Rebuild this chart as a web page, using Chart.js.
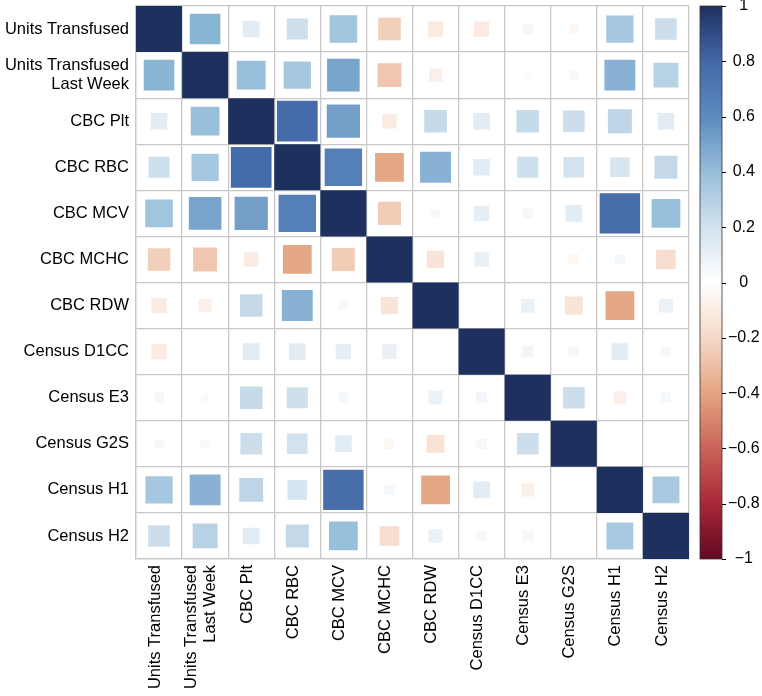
<!DOCTYPE html>
<html><head><meta charset="utf-8">
<script src="https://cdn.jsdelivr.net/npm/chart.js@4/dist/chart.umd.min.js"></script>
<style>html,body{margin:0;padding:0;background:#fff}#wrap{width:762px;height:696px}</style>
</head><body><div id="wrap"><canvas id="c" width="762" height="696"></canvas></div>
<script>
// ---- data ----
const variables = ['Units Transfused','Units Transfused Last Week','CBC Plt','CBC RBC','CBC MCV','CBC MCHC','CBC RDW','Census D1CC','Census E3','Census G2S','Census H1','Census H2'];
const rowUnitsTransfused   = [ 1.00, 0.44, 0.13, 0.21, 0.36,-0.24,-0.11,-0.11, 0.05,-0.04, 0.35, 0.22];
const rowUnitsLastWeek     = [ 0.44, 1.00, 0.39, 0.35, 0.50,-0.27,-0.08, 0.01, 0.03, 0.04, 0.45, 0.29];
const rowCBCPlt            = [ 0.13, 0.39, 1.00, 0.78, 0.52,-0.10, 0.24, 0.13, 0.24, 0.22, 0.27, 0.13];
const rowCBCRBC            = [ 0.21, 0.35, 0.78, 1.00, 0.66,-0.39, 0.45, 0.13, 0.21, 0.20, 0.18, 0.25];
const rowCBCMCV            = [ 0.36, 0.50, 0.52, 0.66, 1.00,-0.25, 0.04, 0.11, 0.05, 0.13, 0.77, 0.39];
const rowCBCMCHC           = [-0.24,-0.27,-0.10,-0.39,-0.25, 1.00,-0.14, 0.10, 0.00,-0.05, 0.05,-0.18];
const rowCBCRDW            = [-0.11,-0.08, 0.24, 0.45, 0.04,-0.14, 1.00,-0.01, 0.09,-0.15,-0.39, 0.09];
const rowCensusD1CC        = [-0.11, 0.01, 0.13, 0.13, 0.11, 0.10,-0.01, 1.00, 0.06, 0.05, 0.13, 0.05];
const rowCensusE3          = [ 0.05, 0.03, 0.24, 0.21, 0.05, 0.00, 0.09, 0.06, 1.00, 0.22,-0.08, 0.05];
const rowCensusG2S         = [-0.04, 0.04, 0.22, 0.20, 0.13,-0.05,-0.15, 0.05, 0.22, 1.00, 0.01, 0.01];
const rowCensusH1          = [ 0.35, 0.45, 0.27, 0.18, 0.77, 0.05,-0.39, 0.13,-0.08, 0.01, 1.00, 0.34];
const rowCensusH2          = [ 0.22, 0.29, 0.13, 0.25, 0.39,-0.18, 0.09, 0.05, 0.05, 0.01, 0.34, 1.00];
const corrRows = [rowUnitsTransfused,rowUnitsLastWeek,rowCBCPlt,rowCBCRBC,rowCBCMCV,rowCBCMCHC,rowCBCRDW,rowCensusD1CC,rowCensusE3,rowCensusG2S,rowCensusH1,rowCensusH2];
const colorbarTicks = [-1,-0.8,-0.6,-0.4,-0.2,0,0.2,0.4,0.6,0.8,1];

// ---- colour map ----
const stopVals = [-1,-0.8,-0.6,-0.4,-0.2,0,0.2,0.4,0.6,0.8,1];
const stopCols = [[98,8,35],[168,40,55],[202,100,88],[228,165,132],[245,217,199],[255,255,255],[210,226,238],[150,190,218],[92,138,190],[68,104,168],[30,48,94]];
function colorFor(v){
  v = Math.max(-1, Math.min(1, v));
  let k = 0;
  while (k < stopVals.length - 2 && v > stopVals[k+1]) k++;
  const t = (v - stopVals[k]) / (stopVals[k+1] - stopVals[k]);
  const a = stopCols[k], b = stopCols[k+1];
  const c = a.map((x,i)=>Math.round(x + (b[i]-x)*t));
  return `rgb(${c[0]},${c[1]},${c[2]})`;
}

const points = [];
corrRows.forEach((row,i)=>row.forEach((v,j)=>points.push({x: variables[j], y: variables[i], v})));

function splitLabel(l){ return l === 'Units Transfused Last Week' ? ['Units Transfused','Last Week'] : l; }

const FONT = {family: "'Liberation Sans', Arial, Helvetica, sans-serif", size: 16.5, lineHeight: 1.15};
const GRID = '#c8c8c8';

// centre rotated multi-line x labels on their column (and nudge like the reference)
const xLabelPlugin = {
  id: 'xLabelCentre',
  beforeDraw(chart){
    const s = chart.scales.x;
    const items = s.getLabelItems();
    items.forEach(it => {
      if (it._shifted) return;
      it._shifted = true;
      const n = Array.isArray(it.label) ? it.label.length : 1;
      const lh = it.font.lineHeight;
      it.textOffset -= (n - 1) * lh / 2 + 4;
    });
  }
};

const colorbarPlugin = {
  id: 'colorbar',
  afterDraw(chart){
    const s = chart.scales.y2, ctx = chart.ctx;
    const x0 = chart.chartArea.right + 11, w = 22;
    const top = s.getPixelForValue(1), bot = s.getPixelForValue(-1);
    const g = ctx.createLinearGradient(0, bot, 0, top);
    for (let k = 0; k <= 200; k++) g.addColorStop(k/200, colorFor(-1 + 2*k/200));
    ctx.save();
    ctx.fillStyle = g;
    ctx.fillRect(x0, top, w, bot - top);
    ctx.strokeStyle = '#333'; ctx.lineWidth = 0.8;
    ctx.strokeRect(x0, top, w, bot - top);
    ctx.lineWidth = 1; ctx.strokeStyle = '#000';
    colorbarTicks.forEach(t => {
      const y = Math.round(s.getPixelForValue(t)) + 0.5;
      ctx.beginPath(); ctx.moveTo(x0 + w, y); ctx.lineTo(x0 + w + 4, y); ctx.stroke();
    });
    ctx.restore();
  }
};

function sideRadius(ctx){
  if (!ctx.raw) return 0;
  const cell = ctx.chart.scales.x.width / variables.length;
  return cell * Math.sqrt(Math.abs(ctx.raw.v)) / Math.SQRT2;
}

new Chart(document.getElementById('c'), {
  type: 'scatter',
  data: {
    datasets: [{
      data: points,
      pointStyle: 'rect',
      borderWidth: 0,
      backgroundColor: ctx => ctx.raw ? colorFor(ctx.raw.v) : '#fff',
      pointRadius: sideRadius,
      pointHoverRadius: sideRadius
    }]
  },
  options: {
    responsive: false,
    animation: false,
    events: [],
    layout: {padding: {top: 6, left: 0, right: 0, bottom: 0}},
    plugins: {legend: {display: false}, tooltip: {enabled: false}},
    scales: {
      x: {
        type: 'category', labels: variables, offset: true, position: 'bottom',
        grid: {offset: true, color: GRID, lineWidth: 1.3, drawTicks: false},
        border: {color: GRID, width: 1.3},
        ticks: {autoSkip: false, minRotation: 90, maxRotation: 90, padding: 6, color: '#000', font: FONT,
          callback: function(val){ return splitLabel(this.getLabelForValue(val)); }},
        afterFit: s => { s.height = 137; s.paddingLeft = 0; s.paddingRight = 0; }
      },
      y: {
        type: 'category', labels: variables, offset: true, position: 'left',
        grid: {offset: true, color: GRID, lineWidth: 1.3, drawTicks: false},
        border: {color: GRID, width: 1.3},
        ticks: {autoSkip: false, padding: 7, color: '#000', font: FONT,
          callback: function(val){ return splitLabel(this.getLabelForValue(val)); }},
        afterFit: s => { s.width = 136; s.paddingTop = 0; s.paddingBottom = 0; }
      },
      y2: {
        type: 'linear', position: 'right', min: -1, max: 1,
        grid: {display: false, drawTicks: false}, border: {display: false},
        ticks: {stepSize: 0.2, crossAlign: 'center', padding: 39, color: '#000',
          font: {family: "'Liberation Sans', Arial, Helvetica, sans-serif", size: 16},
          callback: v => { const r = Math.round(v*10)/10; return r < 0 ? '\u2212' + Math.abs(r) : String(r); }},
        afterFit: s => { s.width = 73; s.paddingTop = 0; s.paddingBottom = 0; }
      }
    }
  },
  plugins: [xLabelPlugin, colorbarPlugin]
});
</script>
</body></html>
